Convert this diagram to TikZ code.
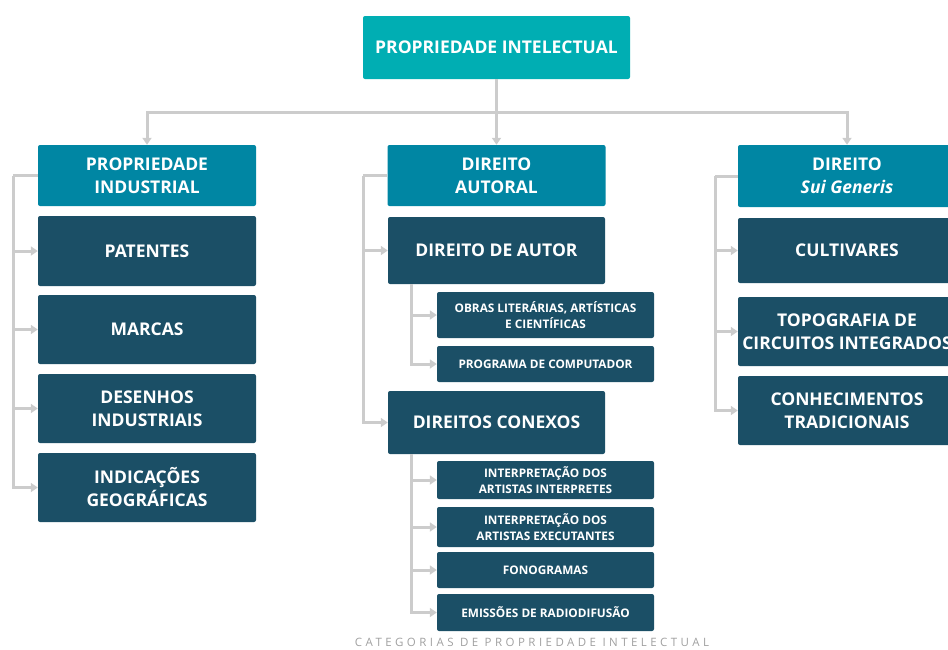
\documentclass[tikz,border=0pt]{standalone}
\usepackage{fontspec}
\setmainfont{Open Sans}
\usetikzlibrary{arrows.meta}
\definecolor{cTop}{RGB}{0,174,179}
\definecolor{cHead}{RGB}{0,134,163}
\definecolor{cDark}{RGB}{27,79,102}
\definecolor{cLine}{RGB}{204,204,204}
\definecolor{cCap}{RGB}{160,160,160}
\tikzset{
 box/.style={rounded corners=2pt, text=white, font=\bfseries\fontsize{17.5}{23}\selectfont, align=center, inner sep=0pt},
 topbox/.style={box, fill=cTop, minimum width=267pt, minimum height=63pt},
 headbox/.style={box, fill=cHead, minimum width=218pt, minimum height=61pt},
 bigbox/.style={box, fill=cDark, minimum width=218pt},
 smallbox/.style={box, fill=cDark, minimum width=217pt, font=\bfseries\fontsize{11.8}{16}\selectfont},
 conn/.style={draw=cLine, line width=3pt},
 arr/.style={conn, -{Triangle[length=7pt,width=9pt]}},
}
\begin{document}
\begin{tikzpicture}[x=1pt,y=-1pt]
\useasboundingbox (0,0) rectangle (948,649);
\clip (0,0) rectangle (948,649);
% top
\node[topbox] (top) at (496.5,47.5) {PROPRIEDADE INTELECTUAL};
% headers
\node[headbox] (h1) at (147,175.5) {PROPRIEDADE\\INDUSTRIAL};
\node[headbox] (h2) at (496.5,175.5) {DIREITO\\AUTORAL};
\node[headbox, minimum height=62pt] (h3) at (847,176) {DIREITO\\\textit{Sui Generis}};
% left column
\node[bigbox, minimum height=70pt] (p1) at (147,251) {PATENTES};
\node[bigbox, minimum height=69pt] (p2) at (147,329.5) {MARCAS};
\node[bigbox, minimum height=69pt] (p3) at (147,408.5) {DESENHOS\\INDUSTRIAIS};
\node[bigbox, minimum height=69pt] (p4) at (147,487.5) {INDICAÇÕES\\GEOGRÁFICAS};
% middle column
\node[bigbox, minimum width=217pt, minimum height=67pt] (da) at (496.5,250.5) {DIREITO DE AUTOR};
\node[smallbox, minimum height=46pt] (s1) at (545.5,315) {OBRAS LITERÁRIAS, ARTÍSTICAS\\E CIENTÍFICAS};
\node[smallbox, minimum height=36pt] (s2) at (545.5,364) {PROGRAMA DE COMPUTADOR};
\node[bigbox, minimum width=217pt, minimum height=63pt] (dc) at (496.5,422.5) {DIREITOS CONEXOS};
\node[smallbox, minimum height=38pt] (s3) at (545.5,480) {INTERPRETAÇÃO DOS\\ARTISTAS INTERPRETES};
\node[smallbox, minimum height=40pt] (s4) at (545.5,527) {INTERPRETAÇÃO DOS\\ARTISTAS EXECUTANTES};
\node[smallbox, minimum height=36pt] (s5) at (545.5,570) {FONOGRAMAS};
\node[smallbox, minimum height=37pt] (s6) at (545.5,612.5) {EMISSÕES DE RADIODIFUSÃO};
% right column
\node[bigbox, minimum height=65pt] (r1) at (847,250.5) {CULTIVARES};
\node[bigbox, minimum height=69pt] (r2) at (847,331.5) {TOPOGRAFIA DE\\CIRCUITOS INTEGRADOS};
\node[bigbox, minimum height=69pt] (r3) at (847,410.5) {CONHECIMENTOS\\TRADICIONAIS};
% caption
\node[font=\fontsize{11.5}{13}\selectfont\addfontfeature{LetterSpace=30}, text=cCap] (cap) at (532,642) {CATEGORIAS DE PROPRIEDADE INTELECTUAL};
% top connectors
\coordinate (bus) at (496.5,112);
\draw[conn] (top.south) -- (bus);
\draw[arr] (bus) -| (h1.north);
\draw[arr] (bus) -- (h2.north);
\draw[arr] (bus) -| (h3.north);
% left bracket
\coordinate (lb) at (13,175.5);
\draw[conn] (h1.west) -- (lb);
\foreach \n in {p1,p2,p3,p4} \draw[arr] (lb) |- (\n.west);
% middle bracket
\coordinate (mb) at (363,175.5);
\draw[conn] (h2.west) -- (mb);
\foreach \n in {da,dc} \draw[arr] (mb) |- (\n.west);
\coordinate (sa) at (411,284);
\foreach \n in {s1,s2} \draw[arr] (sa) |- (\n.west);
\coordinate (sb) at (411,454);
\foreach \n in {s3,s4,s5,s6} \draw[arr] (sb) |- (\n.west);
% right bracket
\coordinate (rb) at (715,176);
\draw[conn] (h3.west) -- (rb);
\foreach \n in {r1,r2,r3} \draw[arr] (rb) |- (\n.west);
\end{tikzpicture}
\end{document}
